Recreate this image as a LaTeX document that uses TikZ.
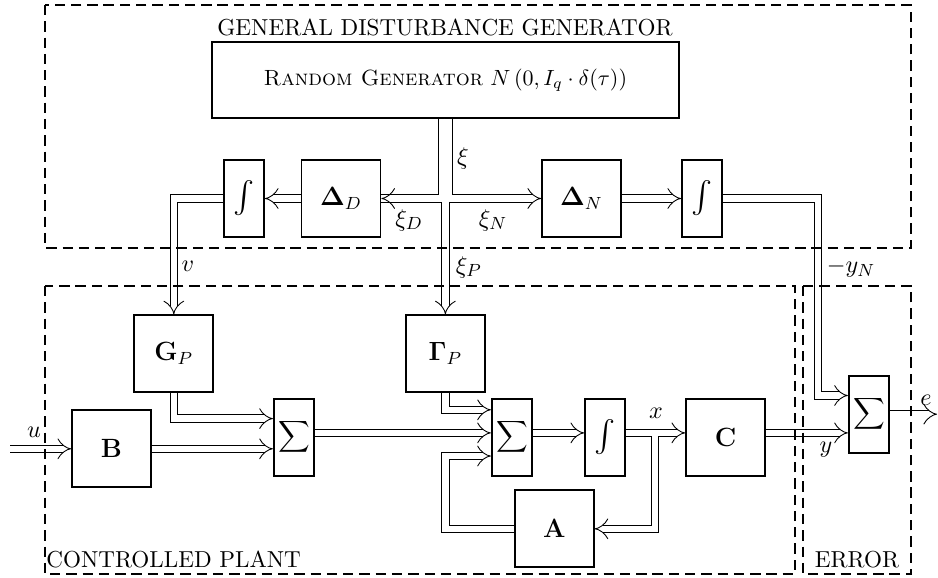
\documentclass[tikz,border=0pt]{standalone}
\usepackage{amsmath,amssymb,exscale}
\usepackage{tikz}
\usetikzlibrary{arrows.meta,positioning}

\begin{document}
\begin{tikzpicture}[x=0.4545pt, y=-0.4545pt, >={Implies[length=4pt, width=6pt]},
  blk/.style={draw, thick, inner sep=2pt, minimum height=35pt, font=\large},
  wide/.style={blk, minimum width=35.9pt},
  slim/.style={blk, minimum width=18.2pt},
  sig/.style={double, double distance=3pt, line width=0.4pt},
  region/.style={draw, thick, dash pattern=on 4.7pt off 2.7pt},
  tag/.style={font=\fontsize{10.5pt}{12pt}\selectfont},
  lbl/.style={font=\fontsize{11pt}{13pt}\selectfont}]
\useasboundingbox (0,0) rectangle (938,578);

% disturbance generator
\node[blk, font=\normalsize, minimum width=212.3pt, minimum height=34.5pt] (gen) at (445.4,80)
  {\textsc{Random Generator} $N\left(0, I_q\cdot\delta(\tau)\right)$};
\node[slim, font=\Large] (iD) at (244,198.5) {$\int$};
\node[wide] (dD) at (341,198.5) {$\boldsymbol{\Delta}_D$};
\node[wide] (dN) at (581.5,198.5) {$\boldsymbol{\Delta}_N$};
\node[slim, font=\Large] (iN) at (702,198.5) {$\int$};

% controlled plant
\node[wide] (gP) at (173.8,353.7) {$\mathbf{G}_P$};
\node[wide] (gam) at (445.4,353.7) {$\boldsymbol{\Gamma}_P$};
\node[wide] (bB) at (111.5,448.8) {$\mathbf{B}$};
\node[slim, font=\normalsize] (s1) at (294,437.3) {$\displaystyle\sum$};
\node[slim, font=\normalsize] (s2) at (512,437.3) {$\displaystyle\sum$};
\node[slim, font=\Large] (iX) at (605,437.3) {$\int$};
\node[wide] (cC) at (725.5,437.3) {$\mathbf{C}$};
\node[wide] (aA) at (554.3,528.8) {$\mathbf{A}$};

% error
\node[slim, font=\normalsize] (s3) at (869,414.2) {$\displaystyle\sum$};

\coordinate (xi) at (gen.south |- dD.east);
\coordinate (nTurn) at (818,395.5);
\coordinate (xBr) at (655,432.9);
\coordinate (uIn) at (10,448.8);
\coordinate (eOut) at (937,414.2);
\coordinate (s1a) at ([yshift=8.5pt]s1.west);
\coordinate (s2a) at ([yshift=12.5pt]s2.west);
\coordinate (s2c) at ([yshift=-8.5pt]s2.west);

% signals
\draw[sig, ->] ([xshift=-1.5pt]gen.south) |- (dD.east)
  ([xshift=1.5pt]gen.south) |- (dN.west);
\draw[sig, ->] ([xshift=4pt]dD.east) -- (dD.east);
\draw[sig, ->] ([yshift=-1.5pt]xi) -- (gam.north);
\draw[sig, ->] (dD.west) -- (iD.east);
\draw[sig, ->] (iD.west) -| (gP.north);
\draw[sig, ->] (dN.east) -- (iN.west);
\draw[sig, ->] (iN.east) -| (nTurn) -- (nTurn -| s3.west);

\draw[sig, ->] (uIn) -- (bB.west);
\draw[sig, ->] (gP.south) |- (s1a);
\draw[sig, ->] (bB.east) -- (bB.east -| s1.west);
\draw[sig, ->] ([yshift=2pt]s1.east) -- ([yshift=2pt]s2.west);
\draw[sig, ->] (gam.south) |- (s2a);
\draw[sig, ->] (aA.west) -| (gam.south |- s2c) -- (s2c);
\draw[sig, ->] ([yshift=2pt]s2.east) -- ([yshift=2pt]iX.west);
\draw[sig, ->] ([yshift=2pt]iX.east) -- ([yshift=2pt]cC.west);
\draw[sig, ->] ([yshift=-1.5pt]xBr) |- (aA.east);
\draw[sig, ->] ([yshift=2pt]cC.east) -- ([yshift=2pt]cC.east -| s3.west);
\draw[sig, ->] (s3.east) -- (eOut);

% labels
\node[lbl] (lXi) at (463,158) {$\xi$};
\node[lbl] (lXiD) at (409,220) {$\xi_D$};
\node[lbl] (lXiN) at (493,220) {$\xi_N$};
\node[lbl] (lXiP) at (469,267) {$\xi_P$};
\node[lbl] (lV) at (188,266) {$v$};
\node[lbl] (lYN) at (851,268) {$-y_N$};
\node[lbl] (lU) at (34,432) {$u$};
\node[lbl] (lX) at (656,413) {$x$};
\node[lbl] (lY) at (826,450) {$y$};
\node[lbl] (lE) at (926,400) {$e$};

% regions
\draw[region] (45,5) rectangle (911,248);
\draw[region] (45,286) rectangle (795,574);
\draw[region] (803,286) rectangle (911,574);
\node[tag, anchor=base] (tGen) at (445,35) {GENERAL DISTURBANCE GENERATOR};
\node[tag, anchor=base west, inner xsep=0pt] (tPlant) at (46,567) {CONTROLLED PLANT};
\node[tag, anchor=base] (tErr) at (857,567) {ERROR};
\end{tikzpicture}
\end{document}
